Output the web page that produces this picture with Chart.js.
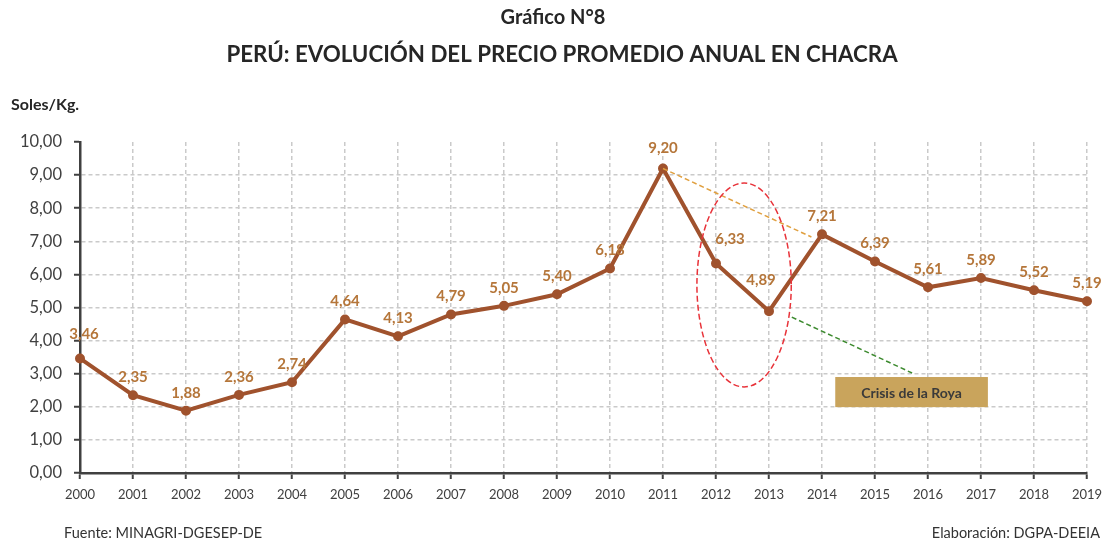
<!DOCTYPE html>
<html>
<head>
<meta charset="utf-8">
<script src="https://cdn.jsdelivr.net/npm/chart.js@4"></script>
<style>
  html, body { margin: 0; padding: 0; background: #fff; }
  #wrap { width: 1107px; height: 541px; position: relative; }
</style>
</head>
<body>
<div id="wrap"><canvas id="precio"></canvas></div>
<script>
// datos
var anios = ["2000","2001","2002","2003","2004","2005","2006","2007","2008","2009",
             "2010","2011","2012","2013","2014","2015","2016","2017","2018","2019"];
var precios = [3.46, 2.35, 1.88, 2.36, 2.74, 4.64, 4.13, 4.79, 5.05, 5.40,
               6.18, 9.20, 6.33, 4.89, 7.21, 6.39, 5.61, 5.89, 5.52, 5.19];
var yTicks = [0, 1, 2, 3, 4, 5, 6, 7, 8, 9, 10];

var FONT = "Lato, 'Open Sans', sans-serif";
var marron = '#A0522D';
var etiqueta = '#B5763A';

function coma(v) { return v.toFixed(2).replace('.', ','); }

// textos fijos y anotaciones
var extras = {
  id: 'extras',
  afterDatasetsDraw: function(chart) {
    var ctx = chart.ctx, x = chart.scales.x, y = chart.scales.y;
    var px = function(i) { return x.getPixelForValue(i); };
    var py = function(v) { return y.getPixelForValue(v); };
    ctx.save();

    // etiquetas de datos
    ctx.font = 'bold 15px ' + FONT;
    ctx.fillStyle = etiqueta;
    ctx.textAlign = 'center';
    ctx.textBaseline = 'middle';
    precios.forEach(function(v, i) {
      var dx = 0, dy = -18;
      if (i === 0) { dx = 4; dy = -24; }
      if (i === 12) { dx = 14; dy = -24; }
      if (i === 13) { dx = -8; dy = -31; }
      if (i === 11) { dy = -20; }
      ctx.fillText(coma(v), px(i) + dx, py(v) + dy);
    });

    // linea naranja discontinua
    ctx.lineWidth = 1.5;
    ctx.setLineDash([5, 3]);
    ctx.strokeStyle = '#E0A040';
    ctx.beginPath();
    ctx.moveTo(px(11), py(9.20));
    ctx.lineTo(px(13.8), py(7.13));
    ctx.stroke();

    // linea verde discontinua
    ctx.strokeStyle = '#3C8A2E';
    ctx.beginPath();
    ctx.moveTo(px(13.43), py(4.71));
    ctx.lineTo(px(15.7), py(3.02));
    ctx.stroke();

    // elipse roja
    ctx.strokeStyle = '#E8333A';
    ctx.lineWidth = 1.5;
    ctx.setLineDash([6, 3]);
    var cx = px(12.53), cy = py(5.68);
    var rx = px(13.42) - cx, ry = cy - py(8.76);
    ctx.beginPath();
    ctx.ellipse(cx, cy, rx, ry, 0, 0, Math.PI * 2);
    ctx.stroke();
    ctx.setLineDash([]);

    // recuadro
    var bx0 = px(14.25), bx1 = px(17.13), by0 = py(2.9), by1 = py(1.99);
    ctx.fillStyle = '#C9A45C';
    ctx.fillRect(bx0, by0, bx1 - bx0, by1 - by0);
    ctx.fillStyle = '#3A3A3A';
    ctx.font = 'bold 14px ' + FONT;
    ctx.fillText('Crisis de la Roya', (bx0 + bx1) / 2, (by0 + by1) / 2 + 1);

    // titulos
    ctx.fillStyle = '#262626';
    ctx.font = 'bold 20px ' + FONT;
    ctx.fillText('Gráfico N°8', 553, 18);
    ctx.font = 'bold 22.3px ' + FONT;
    ctx.fillText('PERÚ: EVOLUCIÓN DEL PRECIO PROMEDIO ANUAL EN CHACRA', 562, 55);

    ctx.textAlign = 'left';
    ctx.font = 'bold 16px ' + FONT;
    ctx.fillText('Soles/Kg.', 11, 105);

    ctx.font = '14.5px ' + FONT;
    ctx.fillStyle = '#333';
    ctx.fillText('Fuente: MINAGRI-DGESEP-DE', 64, 533);
    ctx.textAlign = 'right';
    ctx.fillText('Elaboración: DGPA-DEEIA', 1100, 533);
    ctx.restore();
  }
};

var ctx = document.getElementById('precio').getContext('2d');
var chart = new Chart(ctx, {
  type: 'line',
  data: {
    labels: anios,
    datasets: [{
      label: 'Precio',
      data: precios,
      borderColor: marron,
      backgroundColor: marron,
      borderWidth: 4,
      pointRadius: 3,
      pointBackgroundColor: marron,
      pointBorderColor: marron,
      tension: 0
    }]
  },
  options: {
    responsive: true,
    maintainAspectRatio: false,
    animation: false,
    layout: { padding: { top: 142, right: 20, bottom: 30, left: 0 } },
    plugins: {
      legend: { display: false },
      tooltip: { enabled: false }
    },
    scales: {
      x: {
        offset: false,
        afterFit: function(s) { s.height = 38; s.paddingLeft = 0; s.paddingRight = 0; },
        grid: {
          color: '#CACACA',
          lineWidth: 1.5,
          tickColor: '#404040',
          tickLength: 6,
          tickWidth: 2
        },
        border: { color: '#404040', width: 2.5, dash: [4, 3] },
        ticks: {
          color: '#404040',
          font: { family: FONT, size: 13 },
          maxRotation: 0,
          autoSkip: false,
          padding: 8
        }
      },
      y: {
        min: 0,
        max: 10,
        afterFit: function(s) { s.width = 80; },
        afterBuildTicks: function(s) { s.ticks = yTicks.map(function(v) { return { value: v }; }); },
        grid: {
          color: function(c) { return c.tick && c.tick.value === 10 ? 'rgba(0,0,0,0)' : '#CACACA'; },
          lineWidth: 1.5,
          tickColor: '#404040',
          tickLength: 6,
          tickWidth: 2
        },
        border: { color: '#404040', width: 2.5, dash: [4, 3] },
        ticks: {
          color: '#404040',
          font: { family: FONT, size: 16.5 },
          padding: 12,
          callback: function(v) { return coma(v); }
        }
      }
    }
  },
  plugins: [extras]
});
</script>
</body>
</html>
